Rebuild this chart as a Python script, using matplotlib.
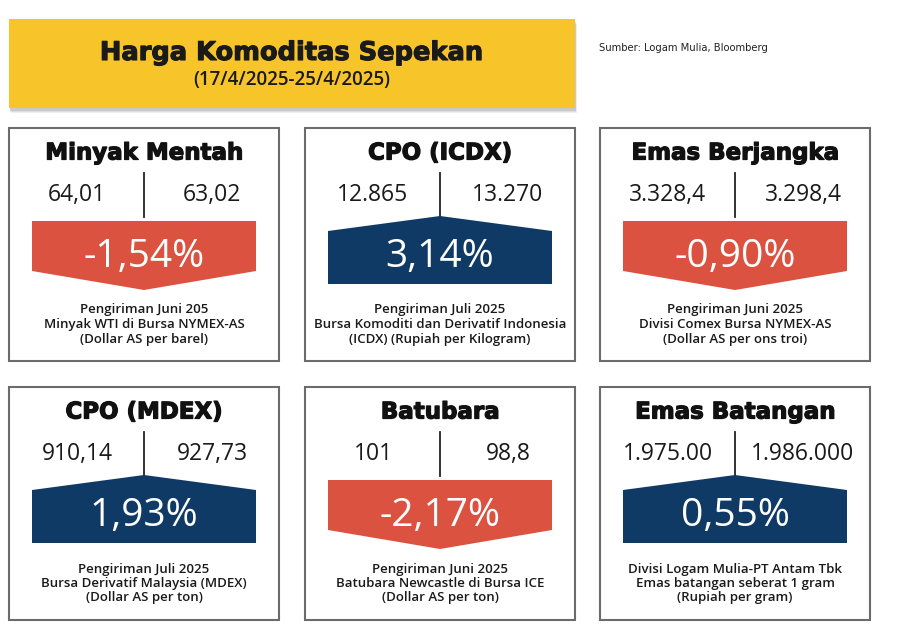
import matplotlib
matplotlib.use("Agg")
import matplotlib.pyplot as plt
from matplotlib.patches import Rectangle, Polygon
import matplotlib.patheffects as pe

# ---- data ----
commodities = ["Minyak Mentah", "CPO (ICDX)", "Emas Berjangka",
               "CPO (MDEX)", "Batubara", "Emas Batangan"]
price_start = ["64,01", "12.865", "3.328,4", "910,14", "101", "1.975.00"]
price_end = ["63,02", "13.270", "3.298,4", "927,73", "98,8", "1.986.000"]
pct_change = [-1.54, 3.14, -0.90, 1.93, -2.17, 0.55]
descriptions = [
    ["Pengiriman Juni 205", "Minyak WTI di Bursa NYMEX-AS", "(Dollar AS per barel)"],
    ["Pengiriman Juli 2025", "Bursa Komoditi dan Derivatif Indonesia", "(ICDX) (Rupiah per Kilogram)"],
    ["Pengiriman Juni 2025", "Divisi Comex Bursa NYMEX-AS", "(Dollar AS per ons troi)"],
    ["Pengiriman Juli 2025", "Bursa Derivatif Malaysia (MDEX)", "(Dollar AS per ton)"],
    ["Pengiriman Juni 2025", "Batubara Newcastle di Bursa ICE", "(Dollar AS per ton)"],
    ["Divisi Logam Mulia-PT Antam Tbk", "Emas batangan seberat 1 gram", "(Rupiah per gram)"],
]
title = "Harga Komoditas Sepekan"
subtitle = "(17/4/2025-25/4/2025)"
source = "Sumber: Logam Mulia, Bloomberg"

# ---- style ----
W, H = 911, 634
YELLOW = "#F7C42A"
RED = "#DB5240"
BLUE = "#0F3A66"
BORDER = "#6b6b6b"
NUMF = ["Open Sans", "DejaVu Sans"]
heavy = [pe.withStroke(linewidth=0.9, foreground="#111111")]

fig = plt.figure(figsize=(W / 100, H / 100), dpi=100)
ax = fig.add_axes([0, 0, 1, 1])
ax.set_xlim(0, W)
ax.set_ylim(H, 0)
ax.axis("off")

# header
for d, a in [(5, 0.15), (4, 0.2), (3, 0.3)]:
    ax.add_patch(Rectangle((9 + d * 0.3, 19 + d), 566, 89, facecolor="#9a9a9a",
                           edgecolor="none", alpha=a, zorder=1))
ax.add_patch(Rectangle((9, 19), 566, 89, facecolor=YELLOW, edgecolor="none", zorder=2))
ax.text(292, 53, title, ha="center", va="center", fontsize=18.5, fontweight="bold",
        family=["DejaVu Sans"], color="#1a1a1a", zorder=3,
        path_effects=[pe.withStroke(linewidth=0.8, foreground="#1a1a1a")])
ax.text(292, 80, subtitle, ha="center", va="center", fontsize=13.5, fontweight="semibold",
        family=NUMF, color="#1a1a1a", zorder=3)
ax.text(599, 48, source, ha="left", va="center", fontsize=7.2, family=["DejaVu Sans"],
        color="#222222")

box_left = [9, 305, 600]
row_top = [128, 387]
BW, BH = 270, 233
INS = 23

for i, name in enumerate(commodities):
    left = box_left[i % 3]
    top = row_top[i // 3]
    cx = left + BW / 2
    ax.add_patch(Rectangle((left, top), BW, BH, facecolor="white", edgecolor=BORDER,
                           linewidth=1.5, zorder=2))
    ax.text(cx, top + 25, name, ha="center", va="center", fontsize=16.5, fontweight="bold",
            family=["DejaVu Sans"], color="#111111", zorder=3, path_effects=heavy)
    ax.text(left + 68, top + 67, price_start[i], ha="center", va="center", fontsize=16.5,
            family=NUMF, color="#1a1a1a", zorder=3)
    ax.text(left + 203, top + 67, price_end[i], ha="center", va="center", fontsize=16.5,
            family=NUMF, color="#1a1a1a", zorder=3)
    v = pct_change[i]
    x0, x1 = left + INS, left + BW - INS
    if v < 0:
        ax.plot([cx, cx], [top + 45, top + 89], color="#222222", lw=1.3, zorder=3)
        poly = [(x0, top + 93), (x1, top + 93), (x1, top + 143), (cx, top + 162), (x0, top + 143)]
        color = RED
    else:
        ax.plot([cx, cx], [top + 45, top + 88], color="#222222", lw=1.3, zorder=3)
        poly = [(x0, top + 103), (cx, top + 88), (x1, top + 103), (x1, top + 156), (x0, top + 156)]
        color = BLUE
    ax.add_patch(Polygon(poly, closed=True, facecolor=color, edgecolor="none", zorder=3))
    label = f"{v:.2f}".replace(".", ",") + "%"
    ax.text(cx, top + 129, label, ha="center", va="center", fontsize=28,
            family=NUMF, color="white", zorder=4)
    for k, line in enumerate(descriptions[i]):
        ax.text(cx, top + 182 + 14.5 * k, line, ha="center", va="center", fontsize=9.5,
                fontweight="semibold", family=NUMF, color="#1a1a1a", zorder=3)

fig.savefig("out.png", dpi=100, facecolor="white")
